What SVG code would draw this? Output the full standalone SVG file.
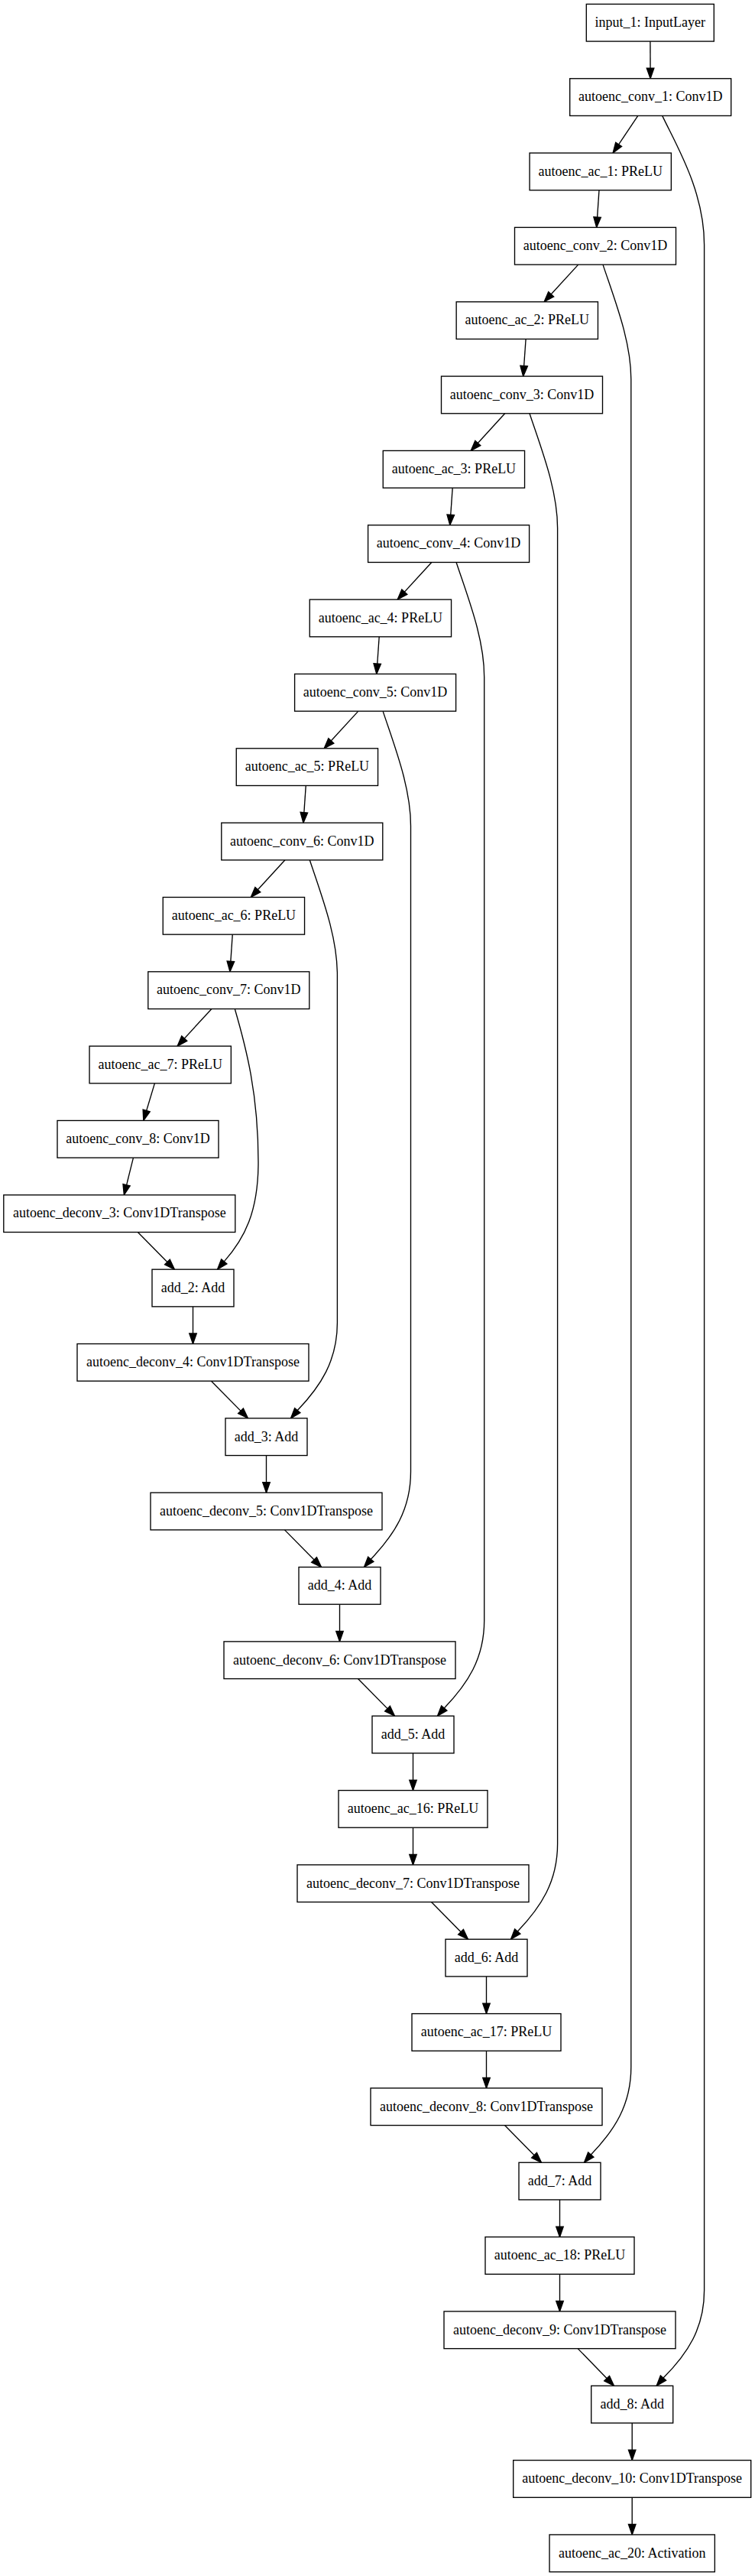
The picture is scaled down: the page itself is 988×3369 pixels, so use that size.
<svg xmlns="http://www.w3.org/2000/svg" width="988" height="3369" viewBox="0 0 988 3369">
<style>
.n rect{fill:#fff;stroke:#000;stroke-width:1.35}
.n text{font-family:"Liberation Serif","Times New Roman",serif;font-size:18px;text-anchor:middle;fill:#000}
.e path{fill:none;stroke:#000;stroke-width:1.35;marker-end:url(#ah)}
</style>
<defs>
<marker id="ah" markerUnits="userSpaceOnUse" markerWidth="16" markerHeight="12" refX="13.5" refY="4.75" orient="auto" overflow="visible">
<path d="M0,0 L13.5,4.75 L0,9.5 Z" fill="#000" stroke="#000" stroke-width="1.35"/>
</marker>
</defs>
<rect x="0" y="0" width="988" height="3369" fill="#fff"/>
<g id="connectors" class="e">
<path d="M850.9,54.07 L851.1,102.74"/>
<path d="M834.8,151.41 L802.1,200.08"/>
<path d="M784.0,248.75 L780.7,297.42"/>
<path d="M756.7,346.09 L712.1,394.76"/>
<path d="M688.1,443.43 L684.7,492.10"/>
<path d="M660.7,540.77 L616.2,589.44"/>
<path d="M592.2,638.11 L588.8,686.78"/>
<path d="M564.8,735.45 L520.2,784.12"/>
<path d="M496.2,832.79 L492.8,881.46"/>
<path d="M468.8,930.13 L424.2,978.80"/>
<path d="M400.25,1027.47 L396.95,1076.14"/>
<path d="M372.95,1124.81 L328.25,1173.48"/>
<path d="M304.25,1222.15 L300.95,1270.82"/>
<path d="M276.9,1319.49 L232.1,1368.16"/>
<path d="M202.4,1416.83 L187.8,1465.50"/>
<path d="M174.45,1514.17 L162.35,1562.84"/>
<path d="M180.35,1611.51 L228.45,1660.18"/>
<path d="M252.5,1708.85 L252.5,1757.52"/>
<path d="M276.5,1806.19 L324.5,1854.86"/>
<path d="M348.5,1903.53 L348.5,1952.20"/>
<path d="M372.5,2000.87 L420.5,2049.54"/>
<path d="M444.5,2098.21 L444.5,2146.88"/>
<path d="M468.5,2195.55 L516.5,2244.22"/>
<path d="M540.5,2292.89 L540.5,2341.56"/>
<path d="M540.5,2390.23 L540.5,2438.90"/>
<path d="M564.5,2487.57 L612.5,2536.24"/>
<path d="M636.5,2584.91 L636.5,2633.58"/>
<path d="M636.5,2682.25 L636.5,2730.92"/>
<path d="M660.5,2779.59 L708.5,2828.26"/>
<path d="M732.5,2876.93 L732.5,2925.60"/>
<path d="M732.5,2974.27 L732.5,3022.94"/>
<path d="M756.2,3071.61 L803.5,3120.28"/>
<path d="M827.2,3168.95 L827.2,3217.62"/>
<path d="M827.2,3266.29 L827.2,3314.96"/>
<path d="M866.7,151.41 C885,190 921.6,250 921.6,320 L921.6,2995.28 C921.6,3045.28 899.6,3078.28 868.0,3109.98 L859.2,3120.28"/>
<path d="M789,346.09 C805,394.09 825.8,446.09 825.8,496.09 L825.8,2703.26 C825.8,2753.26 803.8,2786.26 773.3,2817.96 L764.5,2828.26"/>
<path d="M693,540.77 C709,588.77 729.6,640.77 729.6,690.77 L729.6,2411.24 C729.6,2461.24 707.6,2494.24 677.3,2525.94 L668.5,2536.24"/>
<path d="M597.1,735.45 C613.1,783.45 633.7,835.45 633.7,885.45 L633.7,2119.22 C633.7,2169.22 611.7,2202.22 581.3,2233.92 L572.5,2244.22"/>
<path d="M501.1,930.13 C517.1,978.13 537.5,1030.13 537.5,1080.13 L537.5,1924.54 C537.5,1974.54 515.5,2007.54 485.3,2039.24 L476.5,2049.54"/>
<path d="M405.3,1124.81 C421.3,1172.81 441.4,1224.81 441.4,1274.81 L441.4,1729.86 C441.4,1779.86 419.4,1812.86 389.3,1844.56 L380.5,1854.86"/>
<path d="M307.3,1319.49 C322,1370 338,1430 338,1520 C338,1585 320,1620 293.3,1649.88 L284.5,1660.18"/>
</g>
<g id="input_1" class="n"><rect x="767.3" y="5.40" width="167" height="48.67"/><text x="850.8" y="35.0">input_1: InputLayer</text></g>
<g id="autoenc_conv_1" class="n"><rect x="745.7" y="102.74" width="211" height="48.67"/><text x="851.2" y="132.3">autoenc_conv_1: Conv1D</text></g>
<g id="autoenc_ac_1" class="n"><rect x="693.05" y="200.08" width="185.3" height="48.67"/><text x="785.7" y="229.7">autoenc_ac_1: PReLU</text></g>
<g id="autoenc_conv_2" class="n"><rect x="673.5" y="297.42" width="211" height="48.67"/><text x="779.0" y="327.0">autoenc_conv_2: Conv1D</text></g>
<g id="autoenc_ac_2" class="n"><rect x="597.15" y="394.76" width="185.3" height="48.67"/><text x="689.8" y="424.4">autoenc_ac_2: PReLU</text></g>
<g id="autoenc_conv_3" class="n"><rect x="577.5" y="492.10" width="211" height="48.67"/><text x="683.0" y="521.7">autoenc_conv_3: Conv1D</text></g>
<g id="autoenc_ac_3" class="n"><rect x="501.25" y="589.44" width="185.3" height="48.67"/><text x="593.9" y="619.0">autoenc_ac_3: PReLU</text></g>
<g id="autoenc_conv_4" class="n"><rect x="481.6" y="686.78" width="211" height="48.67"/><text x="587.1" y="716.4">autoenc_conv_4: Conv1D</text></g>
<g id="autoenc_ac_4" class="n"><rect x="405.25" y="784.12" width="185.3" height="48.67"/><text x="497.9" y="813.7">autoenc_ac_4: PReLU</text></g>
<g id="autoenc_conv_5" class="n"><rect x="385.6" y="881.46" width="211" height="48.67"/><text x="491.1" y="911.1">autoenc_conv_5: Conv1D</text></g>
<g id="autoenc_ac_5" class="n"><rect x="309.25" y="978.80" width="185.3" height="48.67"/><text x="401.9" y="1008.4">autoenc_ac_5: PReLU</text></g>
<g id="autoenc_conv_6" class="n"><rect x="289.8" y="1076.14" width="211" height="48.67"/><text x="395.3" y="1105.7">autoenc_conv_6: Conv1D</text></g>
<g id="autoenc_ac_6" class="n"><rect x="213.25" y="1173.48" width="185.3" height="48.67"/><text x="305.9" y="1203.1">autoenc_ac_6: PReLU</text></g>
<g id="autoenc_conv_7" class="n"><rect x="193.8" y="1270.82" width="211" height="48.67"/><text x="299.3" y="1300.4">autoenc_conv_7: Conv1D</text></g>
<g id="autoenc_ac_7" class="n"><rect x="117.05" y="1368.16" width="185.3" height="48.67"/><text x="209.7" y="1397.8">autoenc_ac_7: PReLU</text></g>
<g id="autoenc_conv_8" class="n"><rect x="75" y="1465.50" width="211" height="48.67"/><text x="180.5" y="1495.1">autoenc_conv_8: Conv1D</text></g>
<g id="autoenc_deconv_3" class="n"><rect x="4.8" y="1562.84" width="303" height="48.67"/><text x="156.3" y="1592.4">autoenc_deconv_3: Conv1DTranspose</text></g>
<g id="add_2" class="n"><rect x="199" y="1660.18" width="107" height="48.67"/><text x="252.5" y="1689.8">add_2: Add</text></g>
<g id="autoenc_deconv_4" class="n"><rect x="101" y="1757.52" width="303" height="48.67"/><text x="252.5" y="1787.1">autoenc_deconv_4: Conv1DTranspose</text></g>
<g id="add_3" class="n"><rect x="295" y="1854.86" width="107" height="48.67"/><text x="348.5" y="1884.5">add_3: Add</text></g>
<g id="autoenc_deconv_5" class="n"><rect x="197" y="1952.20" width="303" height="48.67"/><text x="348.5" y="1981.8">autoenc_deconv_5: Conv1DTranspose</text></g>
<g id="add_4" class="n"><rect x="391" y="2049.54" width="107" height="48.67"/><text x="444.5" y="2079.1">add_4: Add</text></g>
<g id="autoenc_deconv_6" class="n"><rect x="293" y="2146.88" width="303" height="48.67"/><text x="444.5" y="2176.5">autoenc_deconv_6: Conv1DTranspose</text></g>
<g id="add_5" class="n"><rect x="487" y="2244.22" width="107" height="48.67"/><text x="540.5" y="2273.8">add_5: Add</text></g>
<g id="autoenc_ac_16" class="n"><rect x="443" y="2341.56" width="195" height="48.67"/><text x="540.5" y="2371.2">autoenc_ac_16: PReLU</text></g>
<g id="autoenc_deconv_7" class="n"><rect x="389" y="2438.90" width="303" height="48.67"/><text x="540.5" y="2468.5">autoenc_deconv_7: Conv1DTranspose</text></g>
<g id="add_6" class="n"><rect x="583" y="2536.24" width="107" height="48.67"/><text x="636.5" y="2565.8">add_6: Add</text></g>
<g id="autoenc_ac_17" class="n"><rect x="539" y="2633.58" width="195" height="48.67"/><text x="636.5" y="2663.2">autoenc_ac_17: PReLU</text></g>
<g id="autoenc_deconv_8" class="n"><rect x="485" y="2730.92" width="303" height="48.67"/><text x="636.5" y="2760.5">autoenc_deconv_8: Conv1DTranspose</text></g>
<g id="add_7" class="n"><rect x="679" y="2828.26" width="107" height="48.67"/><text x="732.5" y="2857.9">add_7: Add</text></g>
<g id="autoenc_ac_18" class="n"><rect x="635" y="2925.60" width="195" height="48.67"/><text x="732.5" y="2955.2">autoenc_ac_18: PReLU</text></g>
<g id="autoenc_deconv_9" class="n"><rect x="581" y="3022.94" width="303" height="48.67"/><text x="732.5" y="3052.5">autoenc_deconv_9: Conv1DTranspose</text></g>
<g id="add_8" class="n"><rect x="773.7" y="3120.28" width="107" height="48.67"/><text x="827.2" y="3149.9">add_8: Add</text></g>
<g id="autoenc_deconv_10" class="n"><rect x="671.7" y="3217.62" width="311" height="48.67"/><text x="827.2" y="3247.2">autoenc_deconv_10: Conv1DTranspose</text></g>
<g id="autoenc_ac_20" class="n"><rect x="719.05" y="3314.96" width="216.3" height="48.67"/><text x="827.2" y="3344.6">autoenc_ac_20: Activation</text></g>
</svg>
